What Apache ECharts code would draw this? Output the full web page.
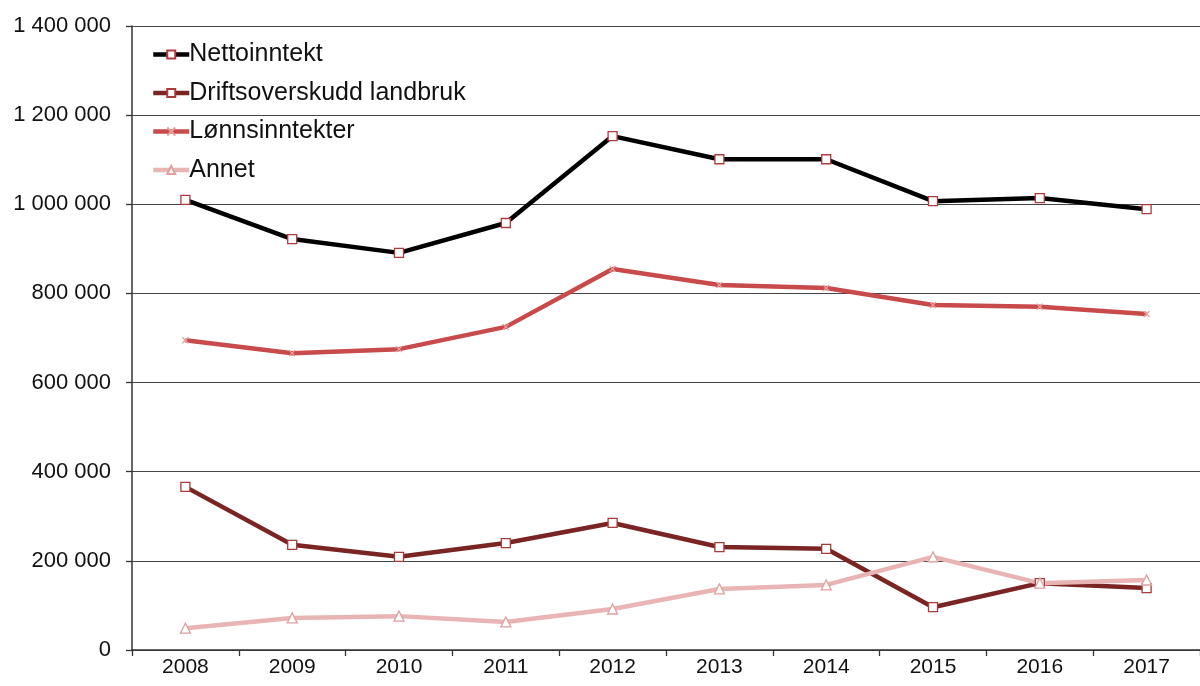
<!DOCTYPE html>
<html><head><meta charset="utf-8">
<script src="https://cdn.jsdelivr.net/npm/echarts@6/dist/echarts.min.js"></script>
<style>html,body{margin:0;padding:0;background:#fff}#c{width:1200px;height:686px}</style>
</head><body><div id="c"></div>
<script>
const years = ['2008','2009','2010','2011','2012','2013','2014','2015','2016','2017'];
const nettoinntekt = [1010000, 922000, 891000, 958000, 1153000, 1101000, 1101000, 1007000, 1014000, 989000];
const driftsoverskudd = [366000, 236000, 209000, 240000, 285000, 231000, 227000, 96000, 150000, 139000];
const lonnsinntekter = [695000, 666000, 675000, 725000, 855000, 819000, 812000, 774000, 770000, 754000];
const annet = [49000, 72000, 76000, 63000, 92000, 137000, 146000, 209000, 150000, 157000];
const seriesNames = ['Nettoinntekt','Driftsoverskudd landbruk','Lønnsinntekter','Annet'];

const font = '"Liberation Sans", Arial, sans-serif';
const fmt = v => String(v).replace(/\B(?=(\d{3})+(?!\d))/g, ' ');
const crossPath = 'path://M0,0L10,10M10,0L0,10';

function mk(name, data, color, symbol, symColor, size) {
  return {
    name, type: 'line', data,
    symbol, symbolSize: size,
    lineStyle: { color, width: 4.5 },
    itemStyle: { color: symbol === crossPath ? 'none' : '#fff', borderColor: symColor, borderWidth: 1.3 },
    emphasis: { disabled: true },
    z: 3
  };
}
const chart = echarts.init(document.getElementById('c'), null, { renderer: 'canvas' });
chart.setOption({
  animation: false,
  backgroundColor: '#fff',
  color: ['#000000','#7a2424','#c84a4a','#e8b4b4'],
  grid: { left: 132, top: 26, width: 1080, bottom: 36, containLabel: false },
  legend: {
    orient: 'vertical', left: 146, top: 37, itemWidth: 36, itemHeight: 10, itemGap: 13.5,
    lineStyle: { width: 4.5 },
    textStyle: { fontFamily: font, fontSize: 25, color: '#111', padding: [0,0,0,-5] },
    data: seriesNames
  },
  xAxis: {
    type: 'category', data: years, boundaryGap: true,
    axisLine: { lineStyle: { color: '#333', width: 1.5 } },
    axisTick: { show: true, length: 6, lineStyle: { color: '#333', width: 1.3 } },
    axisLabel: { fontFamily: font, fontSize: 21, color: '#111', margin: 7 }
  },
  yAxis: {
    type: 'value', min: 0, max: 1400000, interval: 200000,
    axisLine: { show: true, lineStyle: { color: '#333', width: 1.5 } },
    axisTick: { show: true, length: 6, lineStyle: { color: '#333', width: 1.3 } },
    splitLine: { lineStyle: { color: '#444', width: 1.2 } },
    axisLabel: { fontFamily: font, fontSize: 22, color: '#111', margin: 21, formatter: fmt }
  },
  series: [
    mk(seriesNames[0], nettoinntekt, '#000000', 'rect', '#b03a3e', 9),
    mk(seriesNames[1], driftsoverskudd, '#7a2424', 'rect', '#a83a3a', 9),
    mk(seriesNames[2], lonnsinntekter, '#c84a4a', crossPath, '#e7a0a0', 6),
    mk(seriesNames[3], annet, '#e8b4b4', 'triangle', '#e0a0a0', 10)
  ]
});
</script></body></html>
